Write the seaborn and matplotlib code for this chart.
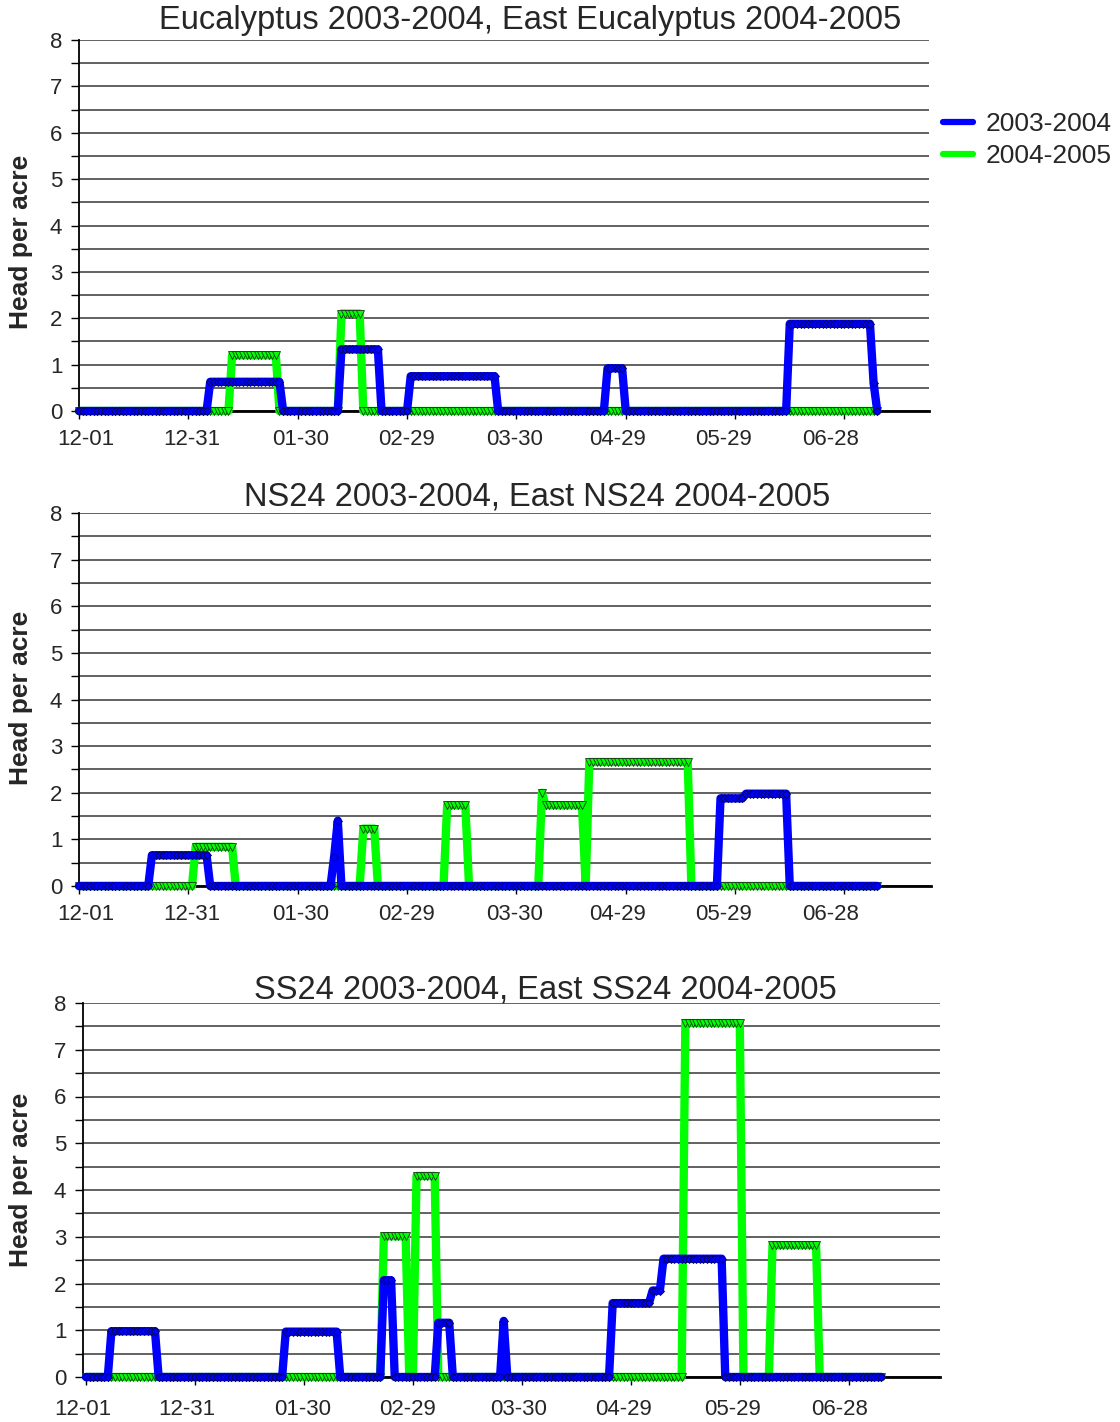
import numpy as np
import pandas as pd
import matplotlib
matplotlib.use("Agg")
import matplotlib.pyplot as plt
import seaborn as sns
from matplotlib.lines import Line2D
from matplotlib.ticker import MultipleLocator

# x axis: one point per day, counted from 12-01
tick_labels = ["12-01", "12-31", "01-30", "02-29", "03-30", "04-29", "05-29", "06-28"]
n_days = 220
series_names = ["2003-2004", "2004-2005"]

# runs of (first day, last day, head per acre); other days are 0
euc_0304 = [(36, 55, 0.63), (72, 82, 1.33), (91, 114, 0.75), (145, 149, 0.92),
            (195, 217, 1.88), (218, 218, 0.60)]
euc_0405 = [(42, 54, 1.20), (72, 77, 2.10)]

ns24_0304 = [(20, 35, 0.66), (70, 70, 0.63), (71, 71, 1.40), (176, 182, 1.88),
             (183, 194, 1.98)]
ns24_0405 = [(32, 42, 0.84), (78, 81, 1.23), (101, 106, 1.73), (127, 127, 2.00),
             (128, 138, 1.73), (140, 167, 2.66)]

ss24_0304 = [(7, 19, 0.98), (55, 69, 0.97), (82, 84, 2.07), (97, 100, 1.16),
             (115, 115, 1.20), (145, 155, 1.58), (156, 158, 1.85), (159, 175, 2.53)]
ss24_0405 = [(82, 88, 3.01), (91, 96, 4.30), (165, 180, 7.57), (189, 201, 2.82)]

titles = ["Eucalyptus 2003-2004, East Eucalyptus 2004-2005",
          "NS24 2003-2004, East NS24 2004-2005",
          "SS24 2003-2004, East SS24 2004-2005"]
panel_data = [(euc_0304, euc_0405), (ns24_0304, ns24_0405), (ss24_0304, ss24_0405)]


def daily(runs):
    vals = np.zeros(n_days)
    for a, b, v in runs:
        vals[a:b + 1] = v
    return vals


def tick_offsets(labels):
    start = pd.Timestamp("2003-12-01")
    out = []
    for lab in labels:
        year = 2003 if lab.startswith("12") else 2004
        out.append((pd.Timestamp(f"{year}-{lab}") - start).days)
    return out


sns.set_theme(style="white")
plt.rcParams['font.family'] = ['Liberation Sans', 'DejaVu Sans']

W, H = 1120, 1422
fig = plt.figure(figsize=(W / 100, H / 100), dpi=100)

# pixel boxes: left, top, right, bottom
boxes = [(79, 40, 929, 411), (79, 513, 931, 886), (83, 1003, 940, 1377)]
title_pos = [(530, 21), (537, 497), (545, 990)]
ylabel_pos = [(21, 242), (21, 698), (21, 1180)]
xlabel_pad = [13, 13, 16]
# label shift from its tick, in px (the labels do not sit quite on the ticks)
label_shift = [[7, 3, 3, -1, -2, -8, -12, -14],
               [7, 3, 3, -1, -2, -8, -12, -14],
               [-3, -8, -1, -5, -3, -7, -7, -9]]
px_per_day = 3.645

blue, green = "#0000FF", "#00FF00"
ticks = tick_offsets(tick_labels)

for i, ((l, t, r, b), (s1, s2)) in enumerate(zip(boxes, panel_data)):
    ax = fig.add_axes([l / W, 1 - b / H, (r - l) / W, (b - t) / H])
    days = np.arange(n_days)
    df2 = pd.DataFrame({"day": days, "value": daily(s2)})
    df1 = pd.DataFrame({"day": days, "value": daily(s1)})

    sns.lineplot(data=df2, x="day", y="value", ax=ax, color=green, lw=6,
                 marker="v", markersize=6, markerfacecolor=green,
                 markeredgecolor="#1a3a1a", markeredgewidth=0.6,
                 errorbar=None, legend=False, clip_on=False, zorder=3)
    sns.lineplot(data=df1, x="day", y="value", ax=ax, color=blue, lw=6,
                 marker="D", markersize=4.5, markerfacecolor=blue,
                 markeredgecolor="#000060", markeredgewidth=0.6,
                 errorbar=None, legend=False, clip_on=False, zorder=4)

    ax.set_xlim(0, (r - l) / px_per_day)
    ax.set_ylim(0, 8)
    # tick marks on the dates, labels placed separately
    ax.set_xticks(ticks)
    ax.set_xticklabels([])
    ax.set_xticks([d + s / px_per_day for d, s in zip(ticks, label_shift[i])], minor=True)
    ax.set_xticklabels(tick_labels, minor=True)
    ax.yaxis.set_major_locator(MultipleLocator(1))
    ax.yaxis.set_minor_locator(MultipleLocator(0.5))
    ax.grid(which="both", axis="y", color="#555555", lw=1.3)
    ax.grid(False, axis="x")
    ax.set_axisbelow(True)
    ax.tick_params(axis="both", which="both", direction="out", length=6,
                   width=1, color="black", labelsize=16, left=True, bottom=True)
    ax.tick_params(axis="x", which="minor", length=0, pad=xlabel_pad[i])
    ax.tick_params(axis="y", pad=6)
    for side in ["top", "right"]:
        ax.spines[side].set_visible(False)
    ax.spines["left"].set_color("black")
    ax.spines["left"].set_linewidth(1.3)
    ax.spines["bottom"].set_color("black")
    ax.spines["bottom"].set_linewidth(2)
    ax.spines["bottom"].set_zorder(2.5)
    ax.set_xlabel("")
    ax.set_ylabel("")

    tx, ty = title_pos[i]
    fig.text(tx / W, 1 - ty / H, titles[i], ha="center", va="center", fontsize=23.5)
    yx, yy = ylabel_pos[i]
    fig.text(yx / W, 1 - yy / H, "Head per acre", rotation=90, ha="center",
             va="center", fontsize=19, fontweight="bold")

handles = [Line2D([], [], color=blue, lw=4.5), Line2D([], [], color=green, lw=4.5)]
fig.legend(handles, series_names, loc="upper left",
           bbox_to_anchor=(943 / W, 1 - 112 / H), frameon=False, fontsize=19,
           handlelength=1.15, handletextpad=0.45, labelspacing=0.3, borderpad=0,
           borderaxespad=0)

fig.savefig("out.png", dpi=100)
